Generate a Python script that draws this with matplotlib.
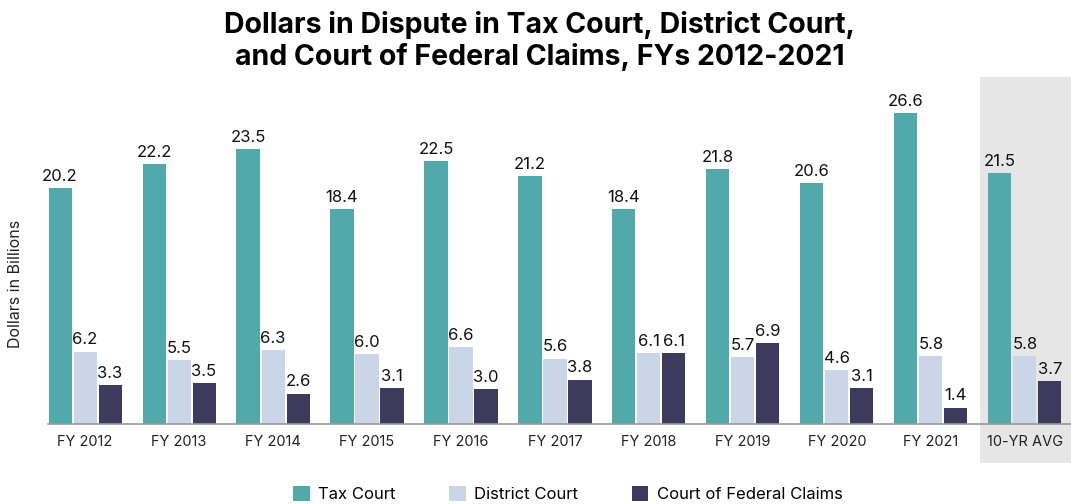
import numpy as np
import matplotlib
matplotlib.use('Agg')
import matplotlib.pyplot as plt
from matplotlib.patches import Rectangle

plt.rcParams['font.family'] = ['Inter', 'DejaVu Sans']

categorias = ['FY 2012', 'FY 2013', 'FY 2014', 'FY 2015', 'FY 2016', 'FY 2017',
              'FY 2018', 'FY 2019', 'FY 2020', 'FY 2021', '10-YR AVG']
tax_court = [20.2, 22.2, 23.5, 18.4, 22.5, 21.2, 18.4, 21.8, 20.6, 26.6, 21.5]
district_court = [6.2, 5.5, 6.3, 6.0, 6.6, 5.6, 6.1, 5.7, 4.6, 5.8, 5.8]
federal_claims = [3.3, 3.5, 2.6, 3.1, 3.0, 3.8, 6.1, 6.9, 3.1, 1.4, 3.7]

series = [('Tax Court', tax_court, '#52a9ac'),
          ('District Court', district_court, '#cad6e8'),
          ('Court of Federal Claims', federal_claims, '#3e3a5e')]

fig = plt.figure(figsize=(10.71, 5.04), dpi=100)
ax = fig.add_axes([48/1071, 80/504, 1 - 48/1071, (424 - 96.7)/504])
ax.set_facecolor('none')

# caja gris del promedio
fig.patches.append(Rectangle((980/1071, 41/504), 91/1071, 386/504,
                             transform=fig.transFigure, facecolor='#e6e6e6',
                             edgecolor='none', zorder=-1))

x = np.arange(len(categorias))
ancho = 0.245
sep = 0.266
for i, (nombre, valores, color) in enumerate(series):
    pos = x + (i - 1)*sep
    barras = ax.bar(pos, valores, ancho, color=color, label=nombre, zorder=2)
    for p, v in zip(pos, valores):
        ax.annotate('%.1f' % v, (p, v), xytext=(0, 3), textcoords='offset points',
                    ha='center', va='bottom', fontsize=12, color='#111111')

ax.set_xlim(-0.394, 10.49)
ax.set_ylim(0, 28)
ax.set_xticks(x)
ax.set_xticklabels(categorias, fontsize=10.5, color='#222222')
ax.tick_params(axis='x', length=0, pad=8)
ax.set_yticks([])
for s in ['top', 'right', 'left']:
    ax.spines[s].set_visible(False)
ax.spines['bottom'].set_color('#999999')
ax.spines['bottom'].set_linewidth(1.2)

fig.text(16/1071, 1 - 284/504, 'Dollars in Billions', rotation=90, ha='center',
         va='center', fontsize=11.5, color='#222222')
fig.text(540/1071, 1 - 41/504, 'Dollars in Dispute in Tax Court, District Court,\nand Court of Federal Claims, FYs 2012-2021',
         ha='center', va='center', fontsize=20.5, fontweight='bold', linespacing=1.2)

fig.legend(loc='center', bbox_to_anchor=(568/1071, 1 - 494/504), ncol=3, frameon=False,
           fontsize=12, handlelength=1.0, handleheight=1.0, columnspacing=3.2,
           handletextpad=0.5)

plt.savefig('out.png', dpi=100)
plt.close()
